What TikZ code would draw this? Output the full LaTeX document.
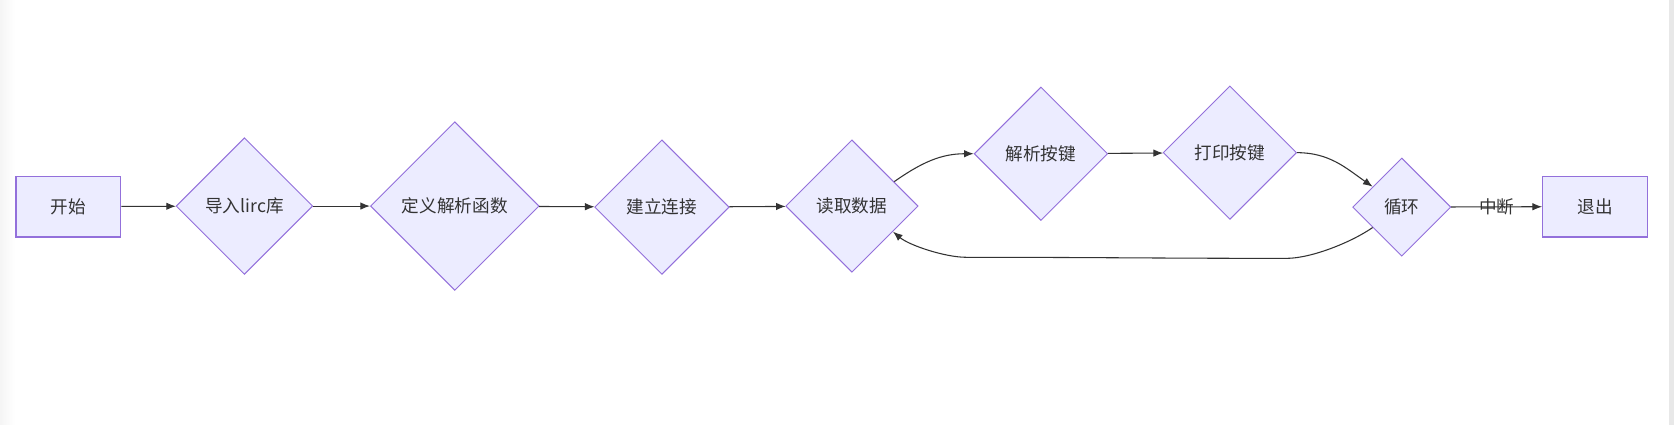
\documentclass[tikz,border=0pt]{standalone}
\usepackage{fontspec}
\setmainfont{Noto Sans CJK SC}
\usetikzlibrary{shapes.geometric,arrows.meta}
\definecolor{nodefill}{HTML}{ECECFF}
\definecolor{nodeline}{HTML}{9370DB}
\definecolor{ink}{HTML}{333333}
\tikzset{
  every node/.style={font=\fontsize{16.5}{18}\selectfont, text=ink},
  boxnode/.style={draw=nodeline, fill=nodefill, line width=1.2pt, rectangle, minimum width=98pt, minimum height=57pt, inner sep=0pt},
  decision/.style={draw=nodeline, fill=nodefill, line width=0.9pt, diamond, aspect=1, inner sep=0pt, minimum width=#1, minimum height=#1},
  flow/.style={draw=ink, line width=1pt, -{Latex[length=9pt,width=7pt]}},
  lbl/.style={inner sep=1pt}
}
\begin{document}
\begin{tikzpicture}[x=1pt,y=-1pt]
\useasboundingbox (0,0) rectangle (1568,398);
\fill[white] (0,0) rectangle (1568,398);
\shade[left color=black!4, right color=white] (0,0) rectangle (14,398);
\fill[black!9] (1563,0) rectangle (1568,398);

\node[boxnode] (start) at (64,193.5) {开始};
\node[decision=128pt] (imp) at (229,193) {导入lirc库};
\node[decision=158pt] (def) at (426,193) {定义解析函数};
\node[decision=126pt] (conn) at (620,194) {建立连接};
\node[decision=124pt] (read) at (798,193) {读取数据};
\node[decision=125pt] (keys) at (975,144) {解析按键};
\node[decision=125pt] (print) at (1152,143) {打印按键};
\node[decision=92pt] (loop) at (1313,194) {循环};
\node[boxnode] (quit) at (1494,193.5) {退出};

\coordinate (b1) at (1205,242);
\coordinate (b2) at (905,241);

\draw[flow] (start) -- (imp);
\draw[flow] (imp) -- (def);
\draw[flow] (def) -- (conn);
\draw[flow] (conn) -- (read);
\draw[flow] (read.30) to[out=35,in=180] (keys.west);
\draw[flow] (keys) -- (print);
\draw[flow] (print.east) to[out=0,in=145] (loop.145);
\draw[flow] (loop) -- node[lbl] {中断} (quit);
\draw[flow] (loop.215) to[out=215,in=0,looseness=0.7] (b1)
  to[out=180,in=0] (b2) to[out=180,in=-40,looseness=0.7] (read.-32);
\end{tikzpicture}
\end{document}
